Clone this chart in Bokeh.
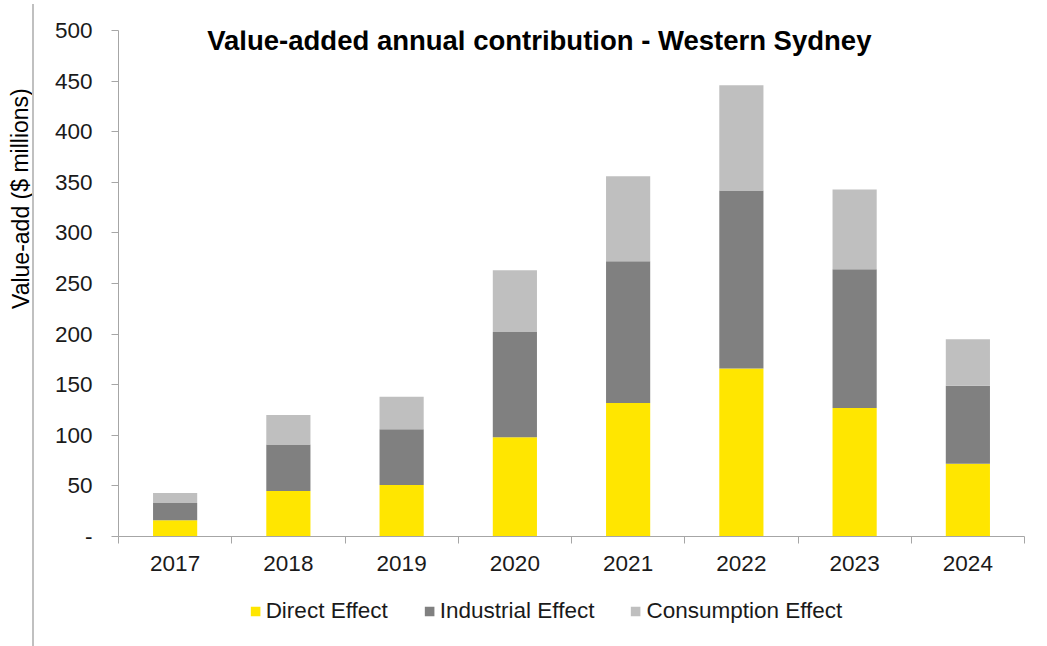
from bokeh.plotting import figure
from bokeh.layouts import column, row
from bokeh.models import (ColumnDataSource, Range1d, LinearAxis, FixedTicker, Legend,
                          LegendItem, Label, InlineStyleSheet)
from bokeh.embed import file_html
from bokeh.resources import INLINE

years = ["2017", "2018", "2019", "2020", "2021", "2022", "2023", "2024"]
direct = [16, 45, 51, 98, 132, 166, 127, 72]
industrial = [17, 46, 55, 104, 140, 176, 137, 77]
consumption = [10, 29, 32, 61, 84, 104, 79, 46]
series = ["Direct Effect", "Industrial Effect", "Consumption Effect"]
colors = ["#FFE600", "#808080", "#BFBFBF"]
y_ticks = list(range(0, 501, 50))
title_text = "Value-added annual contribution - Western Sydney"
y_label = "Value-add ($ millions)"

FONT = "Liberation Sans"
AXIS_COLOR = "#a6a6a6"
TEXT_COLOR = "#1a1a1a"
FS = "22.5px"
stacks = ["direct", "industrial", "consumption"]


def bare(fig):
    fig.outline_line_color = None
    fig.xgrid.visible = False
    fig.ygrid.visible = False
    fig.background_fill_color = "white"
    fig.border_fill_color = "white"


xs = [i + 0.5 for i in range(len(years))]
source = ColumnDataSource(dict(x=xs, direct=direct, industrial=industrial,
                               consumption=consumption))

# main chart
p = figure(width=1014, height=590, output_backend="svg", toolbar_location=None,
           x_range=Range1d(0, len(years)), y_range=Range1d(0, 500),
           x_axis_type=None, y_axis_type=None,
           min_border_left=85, min_border_right=23, min_border_top=30,
           min_border_bottom=54)
bare(p)
p.vbar_stack(stacks, x="x", width=0.39, color=colors, source=source, line_color=None)

# x axis: labels at category centres, tick marks at category boundaries
xaxis = LinearAxis(ticker=FixedTicker(ticks=xs, minor_ticks=list(range(len(years) + 1))),
                   major_label_overrides={x: y for x, y in zip(xs, years)})
xaxis.major_tick_out = 0
xaxis.major_tick_in = 0
xaxis.minor_tick_out = 7
xaxis.minor_tick_in = 0
xaxis.minor_tick_line_color = AXIS_COLOR
xaxis.axis_line_color = AXIS_COLOR
xaxis.major_label_standoff = 12
xaxis.major_label_text_font = FONT
xaxis.major_label_text_font_size = FS
xaxis.major_label_text_color = TEXT_COLOR
p.add_layout(xaxis, "below")

yaxis = LinearAxis(ticker=FixedTicker(ticks=y_ticks),
                   major_label_overrides={0: "-"})
yaxis.major_tick_out = 7
yaxis.major_tick_in = 0
yaxis.minor_tick_line_color = None
yaxis.major_tick_line_color = AXIS_COLOR
yaxis.axis_line_color = AXIS_COLOR
yaxis.major_label_standoff = 19
yaxis.major_label_text_font = FONT
yaxis.major_label_text_font_size = FS
yaxis.major_label_text_color = TEXT_COLOR
p.add_layout(yaxis, "left")

p.add_layout(Label(x=3.716, y=490, text=title_text, text_font=FONT,
                   text_font_size="27.5px", text_font_style="bold", text_align="center",
                   text_baseline="middle", text_color="black"))

# narrow strip on the left holding the rotated y-axis title
yl = figure(width=33, height=590, output_backend="svg", toolbar_location=None,
            x_range=Range1d(0, 33), y_range=Range1d(0, 590),
            x_axis_type=None, y_axis_type=None,
            min_border_left=0, min_border_right=0, min_border_top=0, min_border_bottom=0)
bare(yl)
yl.add_layout(Label(x=20, y=394, text=y_label, angle=1.5708, text_font=FONT,
                    text_font_size="23px", text_align="center", text_baseline="middle",
                    text_color="black"))

# legend strip below the chart (legend proxies are hidden copies of the stacks)
lf = figure(width=1047, height=56, output_backend="svg", toolbar_location=None,
            x_range=Range1d(0, 1), y_range=Range1d(0, 1),
            x_axis_type=None, y_axis_type=None,
            min_border_left=44, min_border_right=0, min_border_top=0, min_border_bottom=14)
bare(lf)
proxies = lf.vbar_stack(stacks, x="x", width=0.39, color=colors, source=source,
                        line_color=None, visible=False)
legend = Legend(items=[LegendItem(label=s, renderers=[r]) for s, r in zip(series, proxies)],
                orientation="horizontal", location="center")
legend.border_line_color = None
legend.background_fill_alpha = 0
legend.inactive_fill_alpha = 0
legend.label_text_font = FONT
legend.label_text_font_size = FS
legend.label_text_color = TEXT_COLOR
legend.glyph_width = 12
legend.glyph_height = 12
legend.label_standoff = 5
legend.spacing = 35
legend.padding = 0
legend.margin = 0
lf.add_layout(legend, "center")

layout = column(row(yl, p, spacing=0), lf, spacing=0)
layout.stylesheets = [InlineStyleSheet(css=(
    ":host::after { content: ''; position: absolute; left: 32px; top: 4px; "
    "width: 1.5px; height: 642px; background: #c0c0c0; pointer-events: none; z-index: 10; }"))]

open("out.html", "w").write(file_html(layout, INLINE))
